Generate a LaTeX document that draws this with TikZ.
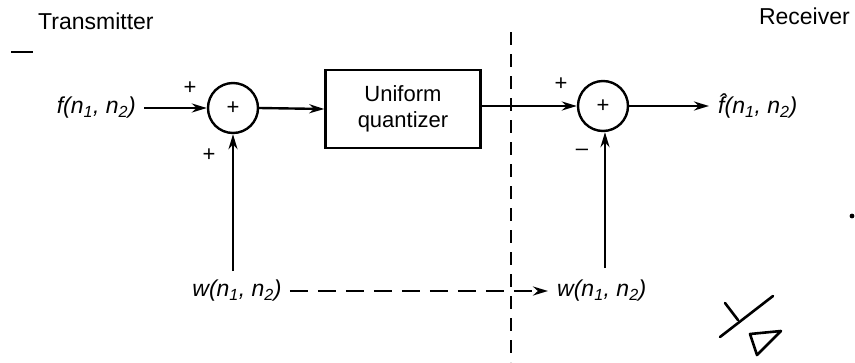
\documentclass[tikz,border=0pt]{standalone}
\usepackage{fontspec}
\setmainfont{Liberation Sans}
\usetikzlibrary{arrows.meta}
\begin{document}
\begin{tikzpicture}[x=1pt,y=-1pt,
  every node/.style={font=\fontsize{23}{26}\selectfont, inner sep=0pt},
  sumnode/.style={draw, circle, line width=2.4pt, minimum size=50pt, font=\fontsize{22}{24}\selectfont},
  blockbox/.style={draw, rectangle, line width=2.4pt, minimum width=155pt, minimum height=78pt, align=center, font=\fontsize{22}{26}\selectfont},
  sig/.style={line width=2.4pt, -{Stealth[length=15pt,width=9pt]}},
  dashsig/.style={line width=2.4pt, dash pattern=on 18pt off 10pt, -{Stealth[length=15pt,width=9pt]}},
  sign/.style={font=\fontsize{22}{24}\selectfont},
  scrib/.style={line width=2.6pt, line cap=round, line join=round}]
\useasboundingbox (0,0) rectangle (855,362);

% titles
\node[anchor=west] (tx) at (38,21) {Transmitter};
\node[anchor=east] (rx) at (850,16) {Receiver};

% transmitter
\node[anchor=east] (f) at (136,108) {\itshape f(n\textsubscript{1}, n\textsubscript{2})};
\node[sumnode] (s1) at (233,108) {+};
\node[blockbox] (q) at (403,109) {Uniform\\quantizer};
\node[anchor=center] (w1) at (237,291) {\itshape w(n\textsubscript{1}, n\textsubscript{2})};
\coordinate (w1top) at (233,271);

% receiver
\node[sumnode] (s2) at (603,106) {+};
\node[anchor=west] (fh) at (718,106) {\itshape \^{f}(n\textsubscript{1}, n\textsubscript{2})};
\coordinate (fhin) at (709,106);
\node[anchor=west] (w2) at (557,291) {\itshape w(n\textsubscript{1}, n\textsubscript{2})};
\coordinate (w2top) at (605,268);
\coordinate (dashend) at (548,291);

% signs
\node[sign] (p1) at (190,88) {+};
\node[sign] (p2) at (209,155) {+};
\node[sign] (p3) at (561,84) {+};
\node[sign] (m1) at (582,152) {–};

% connectors
\draw[sig] (f.east) ++(8,0) -- (s1.west);
\draw[sig] (s1.east) -- (q.west);
\draw[sig] (w1top) -- (s1.south);
\draw[sig] (q.east |- s2.west) -- (s2.west);
\draw[sig] (s2.east) -- (fhin);
\draw[sig] (w2top) -- (w2top |- s2.south);
\draw[dashsig] (w1.east) ++(8,0) -- (dashend);

% boundary
\coordinate (btop) at (511,32);
\coordinate (bbot) at (511,362);
\draw[line width=1.8pt, dash pattern=on 13pt off 9pt] (btop) -- (bbot);

% stray marks of the scan
\draw[line width=2.4pt] (11,52) -- (33,52);
\fill (852,216) circle (2.4pt);
\draw[scrib] (720,337) -- (773,296);
\draw[scrib] (725,303) -- (738,320);
\draw[scrib] (750,334) -- (781,331) -- (757,355) -- cycle;
\end{tikzpicture}
\end{document}
